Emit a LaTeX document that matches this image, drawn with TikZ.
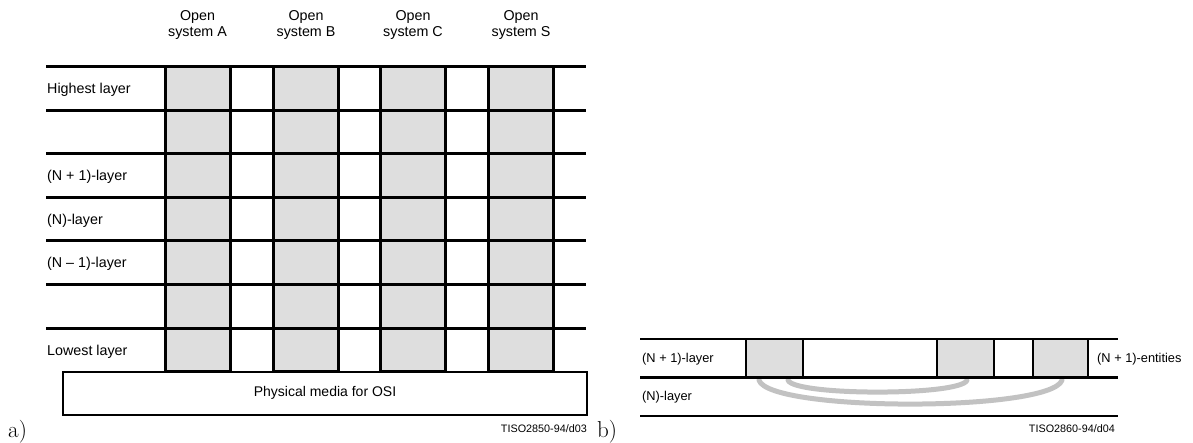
\documentclass[tikz,border=0pt]{standalone}
\usepackage{fontspec}
\newfontfamily\hv{Liberation Sans}
\begin{document}
\begin{tikzpicture}[x=1pt,y=-1pt,
  layline/.style={line width=3pt},
  bline/.style={line width=2.5pt},
  colbox/.style={draw, line width=3pt, fill=black!13, minimum width=65pt, minimum height=304.5pt, inner sep=0pt, outer sep=0pt},
  entbox/.style={draw, line width=2.5pt, fill=black!13, minimum height=38.3pt, inner sep=0pt, outer sep=0pt},
  physbox/.style={draw, line width=2pt, fill=white, minimum width=523.5pt, minimum height=43.5pt, inner sep=0pt, outer sep=0pt, font=\hv\fontsize{14}{16}\selectfont},
  lbl/.style={font=\hv\fontsize{14.3}{16}\selectfont, anchor=base west, inner sep=0pt},
  blbl/.style={font=\hv\fontsize{12.8}{14}\selectfont, anchor=base west, inner sep=0pt},
  hdr/.style={font=\hv\fontsize{14.3}{15.5}\selectfont, align=center, inner sep=0pt, anchor=base},
  code/.style={font=\hv\fontsize{10.8}{12}\selectfont, anchor=base east, inner sep=0pt},
  panel/.style={font=\fontsize{23}{26}\selectfont, anchor=base west, inner sep=0pt},
  arcline/.style={line width=5pt, draw=black!24, line cap=round}
]
\useasboundingbox (0,0) rectangle (1193,443);

% ---------- panel a ----------
\node[hdr] (hA) at (197.5,36.5) {Open\\system A};
\node[hdr] (hB) at (306,36.5) {Open\\system B};
\node[hdr] (hC) at (413,36.5) {Open\\system C};
\node[hdr] (hS) at (521,36.5) {Open\\system S};

\node[colbox] (colA) at (197.5,219.25) {};
\node[colbox] (colB) at (306,219.25) {};
\node[colbox] (colC) at (413,219.25) {};
\node[colbox] (colS) at (521,219.25) {};

\foreach \yy in {67,110.5,154,197.5,241,284.5,328}
  \draw[layline] (46,\yy) -- (586,\yy);

\node[physbox] (phys) at (325,393.25) {Physical media for OSI};

\node[lbl] (l1) at (47,94) {Highest layer};
\node[lbl] (l3) at (47,181) {(N + 1)-layer};
\node[lbl] (l4) at (47,224.5) {(N)-layer};
\node[lbl] (l5) at (47,268) {(N \textendash\ 1)-layer};
\node[lbl] (l7) at (47,355) {Lowest layer};

\node[code] (ca) at (587,432) {TISO2850-94/d03};
\node[panel] (pa) at (8,437) {a)};

% ---------- panel b ----------
\node[entbox, minimum width=57pt] (b1) at (774.5,358.15) {};
\node[entbox, minimum width=57pt] (b2) at (965.5,358.15) {};
\node[entbox, minimum width=55pt] (b3) at (1060.5,358.15) {};

\draw[arcline] ([xshift=-15pt,yshift=-3pt]b1.south east) .. controls (795,396) and (960,396) .. ([xshift=1.5pt,yshift=-3pt]b2.south);
\draw[arcline] ([xshift=13pt,yshift=-3pt]b1.south west) .. controls (770,412) and (1050,412) .. ([xshift=1.5pt,yshift=-3pt]b3.south);

\draw[bline] (640,339) -- (1118,339);
\draw[bline] (640,377.3) -- (1118,377.3);
\draw[bline] (640,416) -- (1118,416);

\node[blbl] (nl1) at (642,362.5) {(N + 1)-layer};
\node[blbl] (nl0) at (642,400.5) {(N)-layer};
\node[blbl] (ent) at (1097,362.5) {(N + 1)-entities};

\node[code] (cb) at (1115,432) {TISO2860-94/d04};
\node[panel] (pb) at (597,437) {b)};
\end{tikzpicture}
\end{document}
